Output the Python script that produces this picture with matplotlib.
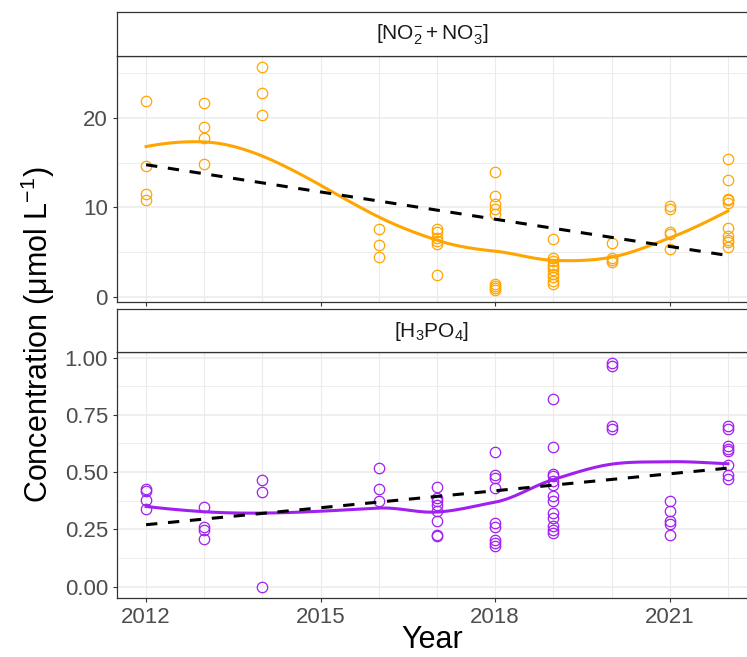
import numpy as np
import matplotlib
matplotlib.use('Agg')
import matplotlib.pyplot as plt

# ─────────────────────────────────────────────
#  Data
# ─────────────────────────────────────────────
years = [2012, 2013, 2014, 2016, 2017, 2018, 2019, 2020, 2021, 2022]

# [NO2- + NO3-]  (umol/L)
nox_by_year = [
    [21.9, 14.6, 11.5, 10.8],
    [21.7, 19.0, 17.8, 14.9],
    [25.7, 22.8, 20.3],
    [7.6, 5.8, 4.5],
    [7.6, 7.3, 6.6, 6.2, 5.9, 2.5],
    [14.0, 11.3, 10.4, 9.8, 9.3, 1.5, 1.2, 1.0, 0.8],
    [6.5, 4.4, 4.0, 3.6, 3.3, 3.0, 2.6, 2.2, 1.8, 1.4],
    [6.0, 4.4, 4.1, 3.9],
    [10.2, 9.8, 7.3, 7.0, 5.4],
    [15.4, 13.1, 10.9, 10.8, 10.5, 7.7, 6.8, 6.4, 6.1, 5.6],
]

# [H3PO4]  (umol/L)
po4_by_year = [
    [0.427, 0.419, 0.379, 0.339],
    [0.349, 0.261, 0.248, 0.210],
    [0.467, 0.413, 0.0],
    [0.517, 0.425, 0.373],
    [0.435, 0.387, 0.373, 0.358, 0.329, 0.288, 0.227, 0.220],
    [0.588, 0.489, 0.475, 0.431, 0.278, 0.261, 0.202, 0.191, 0.179],
    [0.818, 0.610, 0.493, 0.482, 0.463, 0.445, 0.394, 0.376, 0.322, 0.300, 0.263, 0.249, 0.234],
    [0.975, 0.962, 0.703, 0.686],
    [0.373, 0.329, 0.288, 0.275, 0.227],
    [0.703, 0.686, 0.613, 0.603, 0.591, 0.533, 0.489, 0.472],
]

panel_titles = [r'$[\mathrm{NO_2^{-}}+\mathrm{NO_3^{-}}]$', r'$[\mathrm{H_3PO_4}]$']
panel_colors = ['#FFA500', '#A020F0']

# ─────────────────────────────────────────────
#  Style
# ─────────────────────────────────────────────
plt.rcParams['font.family'] = ['Liberation Sans', 'DejaVu Sans']
plt.rcParams['mathtext.fontset'] = 'custom'
plt.rcParams['mathtext.rm'] = 'Liberation Sans'
plt.rcParams['mathtext.it'] = 'Liberation Sans:italic'
plt.rcParams['mathtext.bf'] = 'Liberation Sans:bold'

GRID = '#EBEBEB'
BORDER = '#333333'


def flatten(by_year):
    xs, ys = [], []
    for yr, vals in zip(years, by_year):
        xs += [yr] * len(vals)
        ys += vals
    return np.array(xs, float), np.array(ys, float)


def local_fit(x, y, x0, q):
    """Local quadratic fit with tricube weights -> (value, slope) at x0."""
    d = np.abs(x - x0)
    h = np.sort(d)[q - 1]
    w = np.clip(1 - (d / h) ** 3, 0, None) ** 3
    X = np.vstack([np.ones(len(x)), x - x0, (x - x0) ** 2]).T
    sw = np.sqrt(w)
    beta = np.linalg.lstsq(X * sw[:, None], y * sw, rcond=None)[0]
    return beta[0], beta[1]


def loess(x, y, xs, span=0.75, cell=0.2):
    """R-style loess: fits at kd-tree vertices, cubic Hermite in between."""
    n = len(x)
    q = int(np.floor(n * span))
    fc = int(np.floor(n * span * cell))
    xsort = np.sort(x)
    mu = 0.005 * (xsort[-1] - xsort[0])
    verts = {xsort[0] - mu, xsort[-1] + mu}

    def split(l, u, vlo, vhi):
        if u - l + 1 <= fc:
            return
        m = (l + u + 2) // 2 - 1
        off = 0
        while l <= m + off < u:
            if xsort[m + off] == xsort[m + off + 1]:
                off = -off
                if off >= 0:
                    off += 1
            else:
                m = m + off
                break
        v = xsort[m]
        if v == vlo or v == vhi:
            return
        verts.add(v)
        split(l, m, vlo, v)
        split(m + 1, u, v, vhi)

    split(0, n - 1, xsort[0] - mu, xsort[-1] + mu)
    vx = np.array(sorted(verts))
    fits = np.array([local_fit(x, y, v, q) for v in vx])

    out = []
    for x0 in xs:
        j = min(np.searchsorted(vx, x0, side='right') - 1, len(vx) - 2)
        a, b = vx[j], vx[j + 1]
        hh = b - a
        t = (x0 - a) / hh
        f0, d0 = fits[j]
        f1, d1 = fits[j + 1]
        out.append((2 * t**3 - 3 * t**2 + 1) * f0 + (t**3 - 2 * t**2 + t) * hh * d0
                   + (-2 * t**3 + 3 * t**2) * f1 + (t**3 - t**2) * hh * d1)
    return np.array(out)


fig = plt.figure(figsize=(7.47, 6.57), dpi=100)
W, H = 747.0, 657.0

# pixel boxes: (top of strip, top of panel, bottom of panel)
boxes = [(12, 56, 302), (309, 352, 598)]
x_left, x_right = 117, 757   # panel runs a little past the right edge

ylims = [(-0.56, 26.9), (-0.049, 1.024)]
major_y = [[0, 10, 20], [0, 0.25, 0.5, 0.75, 1.0]]
minor_y = [[5, 15, 25], [0.125, 0.375, 0.625, 0.875]]
ylabels_fmt = ['{:.0f}', '{:.2f}']

for i, by_year in enumerate([nox_by_year, po4_by_year]):
    st, pt, pb = boxes[i]
    ax = fig.add_axes([x_left / W, 1 - pb / H, (x_right - x_left) / W, (pb - pt) / H])
    strip = fig.add_axes([x_left / W, 1 - pt / H, (x_right - x_left) / W, (pt - st) / H])

    x, y = flatten(by_year)
    col = panel_colors[i]

    # grid
    for yr in range(2012, 2023):
        ax.axvline(yr, color=GRID, lw=0.8, zorder=0)
    for v in minor_y[i]:
        ax.axhline(v, color=GRID, lw=0.6, zorder=0)
    for v in major_y[i]:
        ax.axhline(v, color=GRID, lw=1.1, zorder=0)

    # points
    ax.plot(x, y, 'o', mfc='none', mec=col, ms=7.5, mew=0.9, zorder=3)

    # loess smooth
    xs = np.linspace(x.min(), x.max(), 80)
    ax.plot(xs, loess(x, y, xs), color=col, lw=2.2, zorder=4)

    # linear fit
    b1, b0 = np.polyfit(x, y, 1)
    ax.plot(xs, b0 + b1 * xs, color='black', lw=2.2, ls=(0, (3.7, 3.5)), zorder=5)

    ax.set_xlim(2011.5, 2022.5)
    ax.set_ylim(*ylims[i])
    ax.set_yticks(major_y[i])
    ax.set_yticklabels([ylabels_fmt[i].format(v) for v in major_y[i]])
    ax.set_xticks([2012, 2015, 2018, 2021])
    if i == 0:
        ax.set_xticklabels([])
        ax.tick_params(axis='x', length=0)
    ax.tick_params(labelsize=16, labelcolor='#4D4D4D', color=BORDER, length=3, width=0.8)
    for sp in ax.spines.values():
        sp.set_color(BORDER)
        sp.set_linewidth(0.9)

    strip.set_xticks([])
    strip.set_yticks([])
    for sp in strip.spines.values():
        sp.set_color(BORDER)
        sp.set_linewidth(0.9)
    strip.text((432 - x_left) / (x_right - x_left), 0.48, panel_titles[i],
               ha='center', va='center', fontsize=15, color='#1A1A1A',
               transform=strip.transAxes)

fig.text(38 / W, 1 - 335 / H, r'Concentration (μmol L$^{-1}$)', rotation=90,
         ha='center', va='center', fontsize=22)
fig.text(432 / W, 1 - 640 / H, 'Year', ha='center', va='center', fontsize=22)

fig.savefig('out.png', dpi=100)
